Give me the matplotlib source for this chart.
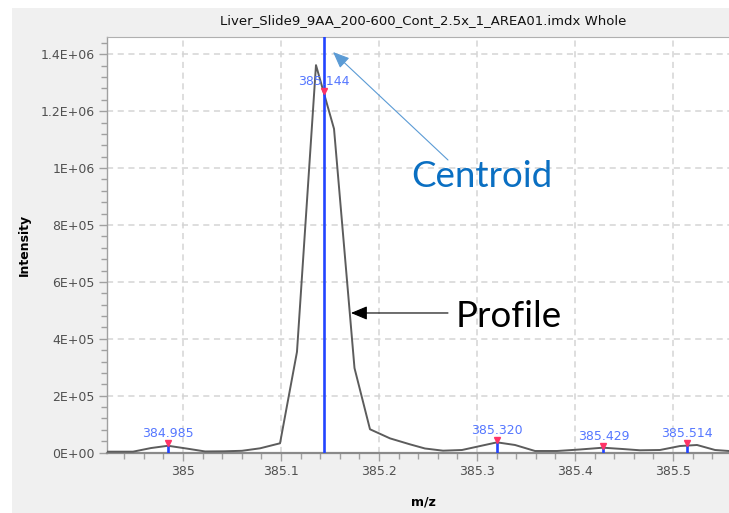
import matplotlib
matplotlib.use("Agg")
import matplotlib.pyplot as plt
from matplotlib.patches import Rectangle
from matplotlib.ticker import MultipleLocator

# ---------------- data ----------------
title = "Liver_Slide9_9AA_200-600_Cont_2.5x_1_AREA01.imdx Whole"

profile_mz = [384.9224, 384.9490, 384.9674, 384.9847, 385.0041, 385.0225, 385.0418,
              385.0602, 385.0786, 385.0990, 385.1163, 385.1357, 385.1541, 385.1750,
              385.1908, 385.2112, 385.2316, 385.2469, 385.2653, 385.2847, 385.3031,
              385.3204, 385.3388, 385.3592, 385.3816, 385.4051, 385.4286, 385.4480,
              385.4663, 385.4867, 385.5071, 385.5245, 385.5429, 385.5571]
profile_int = [3200, 3200, 16000, 24000, 14000, 4000, 4500,
               6300, 15000, 32700, 354000, 1362000, 1138000, 297000,
               82000, 50000, 29000, 14400, 6700, 9100, 23000,
               36000, 26700, 5600, 5600, 10900, 17200, 12700,
               8100, 9100, 23000, 26700, 9100, 5600]

centroid_mz = [384.985, 385.144, 385.320, 385.429, 385.514]
centroid_int = [33000, 1272000, 44000, 24000, 35000]
centroid_labels = ["384.985", "385.144", "385.320", "385.429", "385.514"]
main_centroid = 385.144

ytick_values = [0, 200000, 400000, 600000, 800000, 1000000, 1200000, 1400000]
ytick_labels = ["0E+00", "2E+05", "4E+05", "6E+05", "8E+05", "1E+06", "1.2E+06", "1.4E+06"]
xtick_values = [385.0, 385.1, 385.2, 385.3, 385.4, 385.5]
xtick_labels = ["385", "385.1", "385.2", "385.3", "385.4", "385.5"]

# ---------------- figure ----------------
W, H = 729, 513
fig = plt.figure(figsize=(W / 100, H / 100), dpi=100)
fig.patch.set_facecolor("white")
fig.patches.append(Rectangle((12 / W, 0), 1, 1 - 8 / H, transform=fig.transFigure,
                             facecolor="#f0f0f0", edgecolor="none", zorder=-10))

left, right, top, bottom = 107, 729, 37.3, 452.7
ax = fig.add_axes([left / W, 1 - bottom / H, (right - left) / W, (bottom - top) / H])
ax.set_facecolor("white")

ax.set_xlim(384.92245, 385.55714)
ax.set_ylim(-400, 1459800)

ax.set_xticks(xtick_values)
ax.set_xticklabels(xtick_labels)
ax.set_yticks(ytick_values)
ax.set_yticklabels(ytick_labels)
ax.xaxis.set_minor_locator(MultipleLocator(0.02))
ax.yaxis.set_minor_locator(MultipleLocator(40000))
ax.grid(True, which="major", color="#d4d4d4", linestyle=(0, (4, 3)), linewidth=1.1)
ax.set_axisbelow(True)

ax.spines["right"].set_visible(False)
ax.spines["top"].set_color("#b0b0b0")
ax.spines["top"].set_linewidth(0.8)
ax.spines["left"].set_color("#a0a0a0")
ax.spines["left"].set_linewidth(1.0)
ax.spines["bottom"].set_color("#8a8a8a")
ax.spines["bottom"].set_linewidth(1.6)

ax.tick_params(axis="both", which="major", length=6, width=1, color="#a0a0a0",
               labelsize=9, labelcolor="#505050", pad=3)
ax.tick_params(axis="both", which="minor", length=4, width=1, color="#a0a0a0")

ax.set_xlabel("m/z", fontsize=9, fontweight="bold")
ax.set_ylabel("Intensity", fontsize=9, fontweight="bold")
ax.xaxis.set_label_coords((423 - left) / (right - left), -(502 - bottom) / (bottom - top))
ax.yaxis.set_label_coords(-(107 - 24) / (right - left), 0.5)
ax.xaxis.label.set_va("center")
ax.yaxis.label.set_va("center")

# profile
ax.plot(profile_mz, profile_int, color="#5c5c5c", linewidth=1.4, zorder=3)

# centroids
blue = "#2244ff"
for mz, it, lab in zip(centroid_mz, centroid_int, centroid_labels):
    if mz == main_centroid:
        ax.axvline(mz, color=blue, linewidth=1.9, zorder=4)
        ax.text(mz, it + 10000, lab, color="#5577ff", fontsize=9, ha="center",
                va="bottom", zorder=5)
    else:
        ax.vlines(mz, 0, it, color=blue, linewidth=1.9, zorder=4)
        ax.text(mz, it + 10000, lab, color="#5577ff", fontsize=9, ha="center",
                va="bottom", zorder=5)
    ax.plot([mz], [it], marker="v", color="#ff3366", markersize=5,
            linestyle="none", zorder=6)

# annotations
ax.annotate("", xy=(385.1531, 1408000), xytext=(385.2704, 1028500),
            arrowprops=dict(arrowstyle="-|>,head_length=1.0,head_width=0.42",
                            color="#5b9bd5", linewidth=0.8, shrinkA=0, shrinkB=0),
            zorder=7)
ax.text(385.2327, 934600, "Centroid", family="Lato", fontsize=26.5, color="#0a6fc2",
        ha="left", va="baseline", zorder=7)

ax.annotate("", xy=(385.1714, 490700), xytext=(385.2704, 490700),
            arrowprops=dict(arrowstyle="-|>,head_length=1.0,head_width=0.42",
                            color="black", linewidth=0.8, shrinkA=0, shrinkB=0),
            zorder=7)
ax.text(385.2786, 442500, "Profile", family="Lato", fontsize=26.5, color="black",
        ha="left", va="baseline", zorder=7)

fig.text(423 / W, 1 - 21 / H, title, fontsize=9.5, ha="center", va="center",
         color="#111111")

fig.savefig("out.png", dpi=100)
